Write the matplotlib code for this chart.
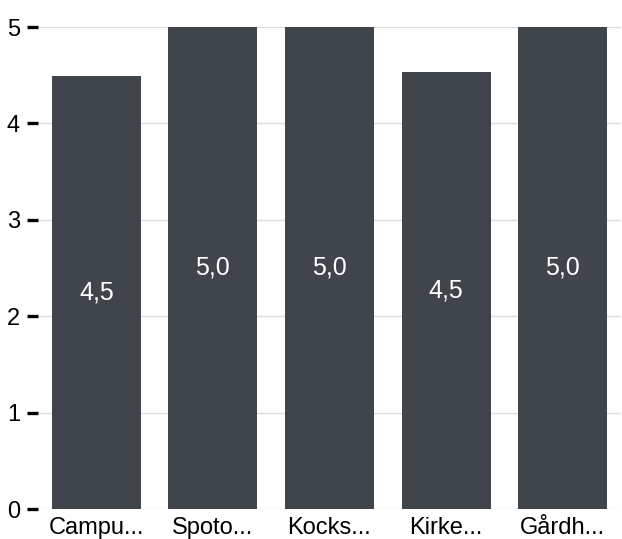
import matplotlib
matplotlib.use('Agg')
import matplotlib.pyplot as plt
import numpy as np

names = ['Campu...', 'Spoto...', 'Kocks...', 'Kirke...', 'Gårdh...']
ratings = [4.49, 5.0, 5.0, 4.53, 5.0]
labels = ['4,5', '5,0', '5,0', '4,5', '5,0']
yticks = [0, 1, 2, 3, 4, 5]

plt.rcParams['font.family'] = ['Liberation Sans', 'DejaVu Sans']

fig = plt.figure(figsize=(6.22, 5.39), dpi=100)
ax = fig.add_axes([38/622, 30/539, 583/622, 482/539])

x = np.arange(len(names))
bars = ax.bar(x, ratings, width=0.763, color='#40454c', zorder=2)
for b, lab in zip(bars, labels):
    ax.text(b.get_x() + b.get_width()/2, b.get_height()/2, lab,
            ha='center', va='center', color='white', fontsize=18, zorder=3)

ax.set_xlim(-0.5, 4.5)
ax.set_ylim(0, 5)
ax.set_yticks(yticks)
ax.set_yticklabels([str(t) for t in yticks])
ax.set_xticks(x)
ax.set_xticklabels(names)
ax.grid(axis='y', color='#dddddd', linewidth=1, zorder=0)
for s in ax.spines.values():
    s.set_visible(False)
ax.tick_params(axis='y', length=8, width=2.4, color='black', labelsize=17, pad=5)
ax.tick_params(axis='x', length=0, labelsize=17, pad=6)

fig.savefig('out.png', dpi=100)
